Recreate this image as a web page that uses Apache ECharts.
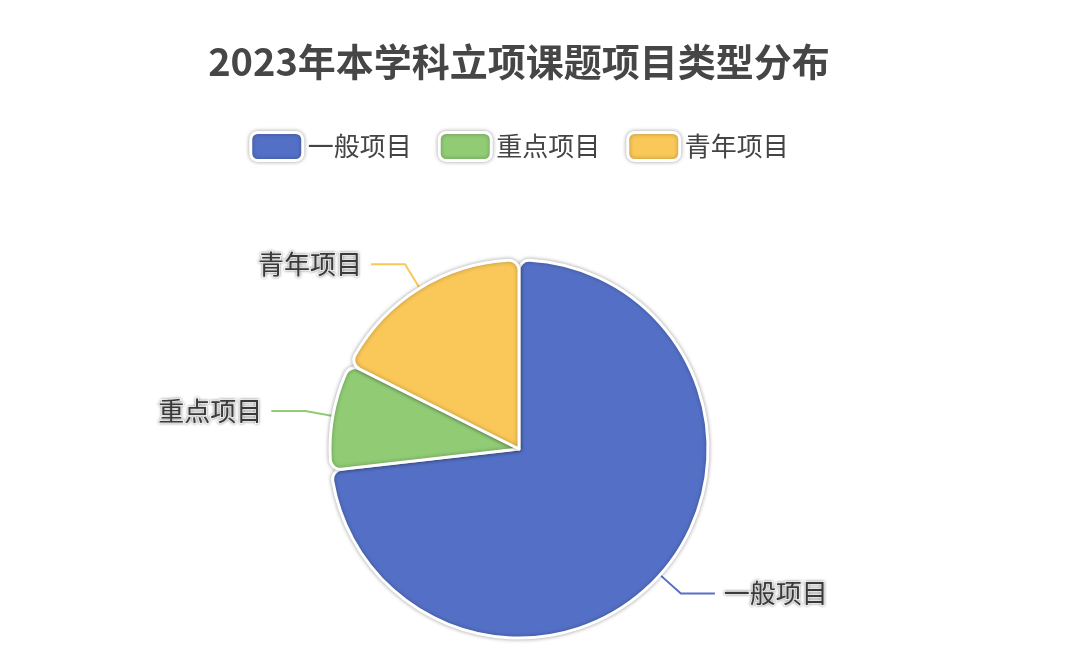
<!DOCTYPE html>
<html>
<head>
<meta charset="utf-8">
<script src="https://cdn.jsdelivr.net/npm/echarts@6/dist/echarts.min.js"></script>
<style>
html,body{margin:0;padding:0;background:#fff;}
#chart{width:1038px;height:664px;}
</style>
</head>
<body>
<div id="chart"></div>
<script>
const titleText = '2023年本学科立项课题项目类型分布';
const categories = ['一般项目', '重点项目', '青年项目'];
const values = [73.2, 9.2, 17.6];
const colors = ['#5470c6', '#91cc75', '#fac858'];

const chart = echarts.init(document.getElementById('chart'));
const fontFamily = '"Noto Sans CJK SC", "Noto Sans", sans-serif';
chart.setOption({
  backgroundColor: '#fff',
  color: colors,
  title: {
    text: titleText,
    left: 'center',
    top: 38,
    textStyle: { fontSize: 38, fontWeight: 'bold', color: '#464646', fontFamily: fontFamily }
  },
  legend: {
    top: 126,
    left: 'center',
    itemWidth: 52,
    itemHeight: 28,
    itemGap: 26,
    data: categories,
    textStyle: { fontSize: 26, color: '#444', fontFamily: fontFamily },
    itemStyle: {
      borderColor: '#fff',
      borderWidth: 3,
      shadowBlur: 4,
      shadowColor: 'rgba(0,0,0,0.3)'
    }
  },
  series: [{
    type: 'pie',
    center: [519, 449],
    radius: 189,
    startAngle: 90,
    clockwise: true,
    data: categories.map((c, i) => ({ name: c, value: values[i] })),
    itemStyle: {
      borderRadius: 10,
      borderColor: '#fff',
      borderWidth: 3,
      shadowBlur: 4,
      shadowColor: 'rgba(0,0,0,0.3)'
    },
    label: {
      show: true,
      formatter: '{b}',
      fontSize: 26,
      color: '#3a3a3a',
      fontFamily: fontFamily,
      textBorderColor: '#fff',
      textBorderWidth: 2,
      textShadowBlur: 3,
      textShadowColor: 'rgba(0,0,0,0.35)',
      distanceToLabelLine: 9
    },
    labelLine: {
      show: true,
      length: 28,
      length2: 34,
      lineStyle: { width: 2 }
    }
  }]
});
</script>
</body>
</html>
